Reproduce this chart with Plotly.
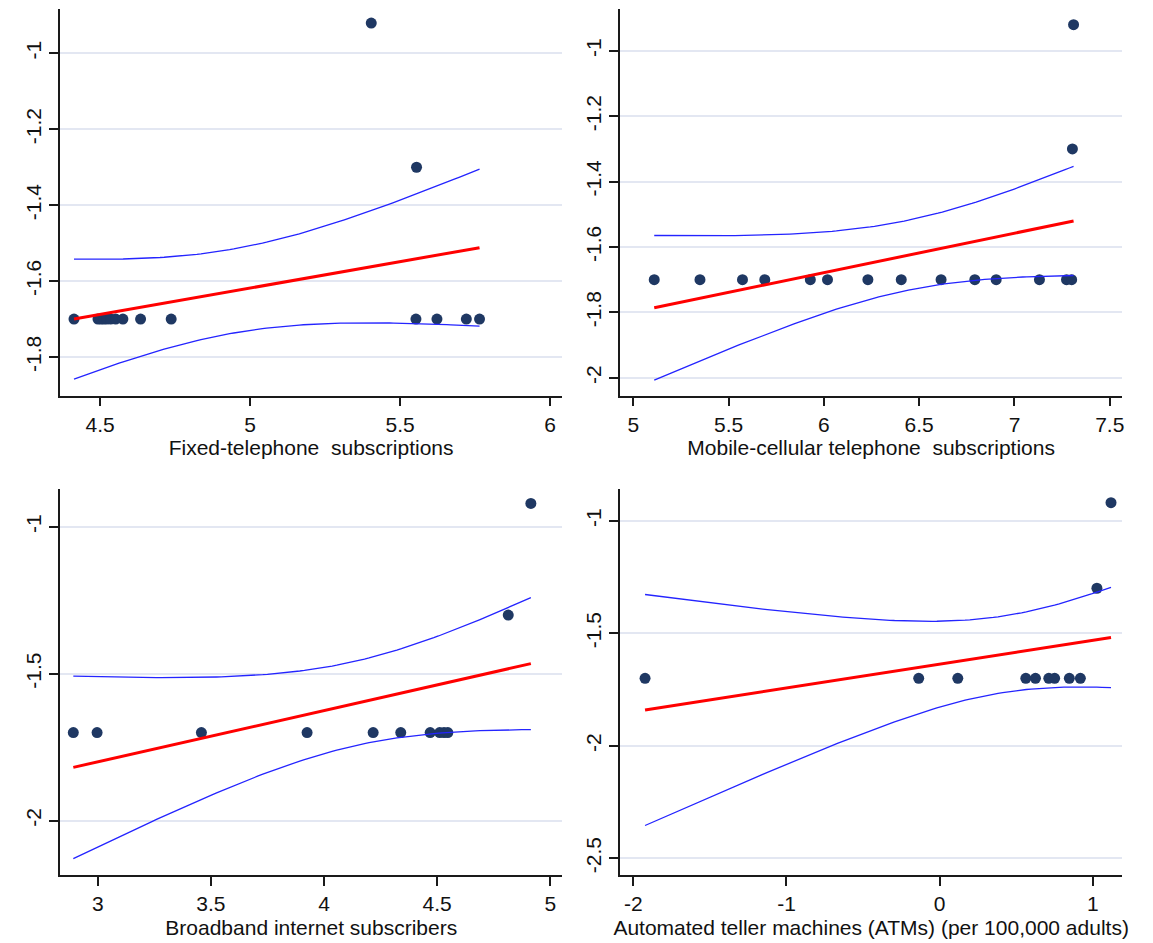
import numpy as np
import plotly.graph_objects as go

# ---- data: one array per variable -------------------------------------------------
# Horizontal-axis variables (log scale values)
fixed_tel_x = [4.413, 4.493, 4.503, 4.512, 4.522, 4.535, 4.552, 4.576, 4.635, 4.737,
               5.553, 5.623, 5.721, 5.765, 5.555, 5.404]
fixed_tel_y = [-1.7, -1.7, -1.7, -1.7, -1.7, -1.7, -1.7, -1.7, -1.7, -1.7,
               -1.7, -1.7, -1.7, -1.7, -1.3, -0.92]

mobile_x = [5.110, 5.350, 5.573, 5.690, 5.929, 6.019, 6.231, 6.406, 6.615, 6.792,
            6.904, 7.131, 7.273, 7.300, 7.304, 7.310]
mobile_y = [-1.7, -1.7, -1.7, -1.7, -1.7, -1.7, -1.7, -1.7, -1.7, -1.7,
            -1.7, -1.7, -1.7, -1.7, -1.3, -0.92]

broadband_x = [2.892, 2.997, 3.458, 3.925, 4.217, 4.339, 4.469, 4.511, 4.530, 4.547,
               4.814, 4.914]
broadband_y = [-1.7, -1.7, -1.7, -1.7, -1.7, -1.7, -1.7, -1.7, -1.7, -1.7,
               -1.3, -0.92]

atm_x = [-1.923, -0.137, 0.118, 0.562, 0.625, 0.712, 0.750, 0.846, 0.918,
         1.026, 1.118]
atm_y = [-1.7, -1.7, -1.7, -1.7, -1.7, -1.7, -1.7, -1.7, -1.7,
         -1.3, -0.92]

# Axis titles
x_titles = [
    "Fixed-telephone  subscriptions",
    "Mobile-cellular telephone  subscriptions",
    "Broadband internet subscribers",
    "Automated teller machines (ATMs) (per 100,000 adults)",
]

# Tick values and labels
x_tickvals = [
    [4.5, 5, 5.5, 6],
    [5, 5.5, 6, 6.5, 7, 7.5],
    [3, 3.5, 4, 4.5, 5],
    [-2, -1, 0, 1],
]
x_ticktext = [
    ["4.5", "5", "5.5", "6"],
    ["5", "5.5", "6", "6.5", "7", "7.5"],
    ["3", "3.5", "4", "4.5", "5"],
    ["-2", "-1", "0", "1"],
]
y_tickvals = [
    [-1, -1.2, -1.4, -1.6, -1.8],
    [-1, -1.2, -1.4, -1.6, -1.8, -2],
    [-1, -1.5, -2],
    [-1, -1.5, -2, -2.5],
]
y_ticktext = [
    ["-1", "-1.2", "-1.4", "-1.6", "-1.8"],
    ["-1", "-1.2", "-1.4", "-1.6", "-1.8", "-2"],
    ["-1", "-1.5", "-2"],
    ["-1", "-1.5", "-2", "-2.5"],
]

# ---- linear fit with 95% confidence interval of the mean --------------------------
T975 = {5: 2.571, 6: 2.447, 7: 2.365, 8: 2.306, 9: 2.262, 10: 2.228, 11: 2.201,
        12: 2.179, 13: 2.160, 14: 2.145, 15: 2.131, 16: 2.120, 17: 2.110, 18: 2.101}


def lfit_ci(x, y, n_grid=100):
    x = np.asarray(x, float)
    y = np.asarray(y, float)
    n = len(x)
    xm, ym = x.mean(), y.mean()
    sxx = ((x - xm) ** 2).sum()
    b = ((x - xm) * (y - ym)).sum() / sxx
    a = ym - b * xm
    resid = y - (a + b * x)
    s = np.sqrt((resid ** 2).sum() / (n - 2))
    grid = np.linspace(x.min(), x.max(), n_grid)
    fit = a + b * grid
    se = s * np.sqrt(1.0 / n + (grid - xm) ** 2 / sxx)
    t = T975[n - 2]
    return grid, fit, fit - t * se, fit + t * se


panels = [
    (fixed_tel_x, fixed_tel_y),
    (mobile_x, mobile_y),
    (broadband_x, broadband_y),
    (atm_x, atm_y),
]

# ---- layout geometry (pixels) -------------------------------------------------------
W, H = 1153, 943
boxes = [  # left, right, top, bottom
    (60.0, 563.3, 9.0, 395.7),
    (621.0, 1124.3, 9.0, 395.7),
    (60.3, 563.3, 489.0, 875.0),
    (621.0, 1124.3, 489.0, 875.0),
]
x_ranges = [[4.366, 6.041], [4.930, 7.566], [2.834, 5.053], [-2.087, 1.192]]
y_ranges = [[-1.902, -0.883], [-2.055, -0.872], [-2.185, -0.871], [-2.574, -0.859]]

FONT = "Liberation Sans, Arial, sans-serif"
FS = 21
TXT = "#111111"
DOT = "#1f3863"
FIT = "#ff0000"
CI = "#2424ff"
GRID = "#e3e7f2"
AXIS = "#1a1a1a"

fig = go.Figure()
layout = dict(
    width=W, height=H,
    margin=dict(l=0, r=0, t=0, b=0),
    paper_bgcolor="white", plot_bgcolor="white",
    showlegend=False,
    font=dict(family=FONT, size=FS, color=TXT),
)

for i, ((xs, ys), box) in enumerate(zip(panels, boxes)):
    k = "" if i == 0 else str(i + 1)
    xa, ya = "x" + k, "y" + k
    grid, fit, lo, hi = lfit_ci(xs, ys)

    fig.add_trace(go.Scatter(x=xs, y=ys, mode="markers", xaxis=xa, yaxis=ya,
                             marker=dict(color=DOT, size=11, line=dict(width=0))))
    fig.add_trace(go.Scatter(x=grid, y=lo, mode="lines", xaxis=xa, yaxis=ya,
                             line=dict(color=CI, width=1.3)))
    fig.add_trace(go.Scatter(x=grid, y=hi, mode="lines", xaxis=xa, yaxis=ya,
                             line=dict(color=CI, width=1.3)))
    fig.add_trace(go.Scatter(x=grid, y=fit, mode="lines", xaxis=xa, yaxis=ya,
                             line=dict(color=FIT, width=3)))

    left, right, top, bottom = box
    layout["xaxis" + k] = dict(
        domain=[left / W, right / W], anchor=ya, range=x_ranges[i],
        tickmode="array", tickvals=x_tickvals[i], ticktext=x_ticktext[i],
        showgrid=False, zeroline=False, showline=True, linecolor=AXIS, linewidth=1.5,
        ticks="outside", ticklen=9, tickwidth=1.5, tickcolor=AXIS,
        tickfont=dict(family=FONT, size=FS, color=TXT),
        title=dict(text=x_titles[i], font=dict(family=FONT, size=FS, color=TXT),
                   standoff=6),
    )
    layout["yaxis" + k] = dict(
        domain=[1 - bottom / H, 1 - top / H], anchor=xa, range=y_ranges[i],
        tickmode="array", tickvals=y_tickvals[i], ticktext=y_ticktext[i],
        tickangle=-90,
        showgrid=True, gridcolor=GRID, gridwidth=1.5, zeroline=False,
        showline=True, linecolor=AXIS, linewidth=1.5,
        ticks="outside", ticklen=9, tickwidth=1.5, tickcolor=AXIS,
        tickfont=dict(family=FONT, size=FS, color=TXT),
    )

fig.update_layout(**layout)
fig.write_html("out.html")
